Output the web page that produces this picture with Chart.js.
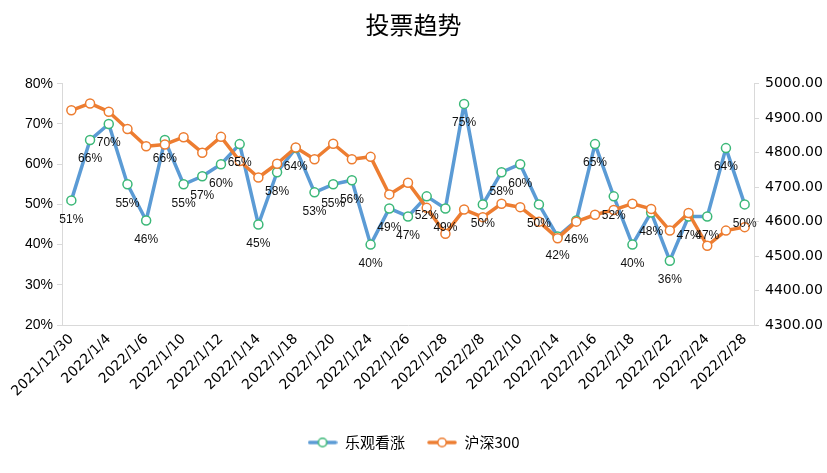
<!DOCTYPE html>
<html>
<head>
<meta charset="utf-8">
<script src="https://cdn.jsdelivr.net/npm/chart.js@4/dist/chart.umd.min.js"></script>
<style>
html,body{margin:0;padding:0;background:#fff;}
#wrap{width:827px;height:473px;position:relative;}
</style>
</head>
<body>
<div id="wrap"><canvas id="c" width="827" height="473"></canvas></div>
<script>
const categories = ["2021/12/30","2021/12/31","2022/1/4","2022/1/5","2022/1/6","2022/1/7","2022/1/10","2022/1/11","2022/1/12","2022/1/13","2022/1/14","2022/1/17","2022/1/18","2022/1/19","2022/1/20","2022/1/21","2022/1/24","2022/1/25","2022/1/26","2022/1/27","2022/1/28","2022/2/7","2022/2/8","2022/2/9","2022/2/10","2022/2/11","2022/2/14","2022/2/15","2022/2/16","2022/2/17","2022/2/18","2022/2/21","2022/2/22","2022/2/23","2022/2/24","2022/2/25","2022/2/28"];
const bullishPct = [51,66,70,55,46,66,55,57,60,65,45,58,64,53,55,56,40,49,47,52,49,75,50,58,60,50,42,46,65,52,40,48,36,47,47,64,50];
const hs300 = [4923,4943,4919,4869,4819,4824,4845,4800,4846,4776,4728,4768,4815,4781,4826,4781,4788,4679,4713,4640,4565,4635,4613,4652,4642,4600,4552,4600,4620,4634,4652,4637,4574,4625,4530,4574,4584];
const leftTicks = {min:20, max:80, step:10};
const rightTicks = {min:4300, max:5000, step:100};
const seriesNames = ["乐观看涨","沪深300"];
const title = "投票趋势";

function legendIcon(lineColor, markerColor){
  const cv = document.createElement('canvas');
  cv.width = 30; cv.height = 12;
  const g = cv.getContext('2d');
  g.strokeStyle = lineColor; g.lineWidth = 3.5; g.lineCap='round';
  g.beginPath(); g.moveTo(2,6); g.lineTo(28,6); g.stroke();
  g.fillStyle = '#fff'; g.strokeStyle = markerColor; g.lineWidth = 1.5;
  g.beginPath(); g.arc(15,6,4.2,0,Math.PI*2); g.fill(); g.stroke();
  return cv;
}

const BLUE = '#5B9BD5', GREEN = '#3CB878', ORANGE = '#ED7D31';

const labelPlugin = {
  id:'pctLabels',
  afterDatasetsDraw(chart){
    const meta = chart.getDatasetMeta(0);
    const ctx = chart.ctx;
    ctx.save();
    ctx.font = '12px "Liberation Sans", Arial, sans-serif';
    ctx.fillStyle = '#111';
    ctx.textAlign = 'center';
    ctx.textBaseline = 'middle';
    meta.data.forEach((pt,i)=>{
      ctx.fillText(bullishPct[i] + '%', pt.x, pt.y + 19);
    });
    ctx.restore();
  }
};

const tickFont = {family:'"Liberation Sans", Arial, sans-serif', size:14};

new Chart(document.getElementById('c'), {
  type:'line',
  data:{
    labels: categories,
    datasets:[
      {label:seriesNames[0], data:bullishPct, yAxisID:'y', borderColor:BLUE, borderWidth:3.5,
       borderJoinStyle:'round', borderCapStyle:'round',
       pointRadius:4.5, pointBorderWidth:1.5, pointBorderColor:GREEN, pointBackgroundColor:'#fff',
       tension:0, order:1, pointStyle:'circle'},
      {label:seriesNames[1], data:hs300, yAxisID:'y1', borderColor:ORANGE, borderWidth:3.5,
       borderJoinStyle:'round', borderCapStyle:'round',
       pointRadius:4.5, pointBorderWidth:1.5, pointBorderColor:ORANGE, pointBackgroundColor:'#fff',
       tension:0, order:0, pointStyle:'circle'}
    ]
  },
  options:{
    responsive:false,
    animation:false,
    devicePixelRatio:1,
    layout:{padding:{top:0,left:0,right:0,bottom:13}},
    plugins:{
      title:{display:true, text:title, color:'#000',
        font:{family:'"Noto Sans CJK SC", sans-serif', size:24, weight:'normal'},
        padding:{top:10, bottom:45}},
      legend:{position:'bottom',
        labels:{
          usePointStyle:true, pointStyleWidth:30, boxHeight:12, padding:22,
          color:'#000', font:{family:'"Noto Sans CJK SC", sans-serif', size:15},
          sort:(a,b)=>a.datasetIndex-b.datasetIndex,
          generateLabels(chart){
            return chart.data.datasets.map((ds,i)=>({
              text:ds.label, datasetIndex:i,
              pointStyle: i===0 ? legendIcon(BLUE,GREEN) : legendIcon(ORANGE,ORANGE),
              fillStyle:'#fff', strokeStyle:ds.borderColor, lineWidth:0, hidden:false, fontColor:'#000'
            }));
          }
        }
      },
      tooltip:{enabled:false}
    },
    scales:{
      x:{
        offset:true,
        grid:{display:false, drawTicks:false},
        border:{display:true, color:'#d9d9d9', width:1},
        ticks:{autoSkip:false, minRotation:45, maxRotation:45, color:'#000', padding:6,
          font:{family:'"DejaVu Sans", sans-serif', size:14},
          callback:function(v,i){ return i%2===0 ? categories[i] : ''; }},
        afterFit(axis){ axis.height = 88; }
      },
      y:{
        position:'left', min:leftTicks.min, max:leftTicks.max,
        grid:{display:true, drawOnChartArea:false, drawTicks:true, tickLength:5, color:'#d9d9d9'},
        border:{display:true, color:'#d9d9d9'},
        ticks:{stepSize:leftTicks.step, color:'#000', padding:4, font:tickFont,
          callback:v=>v+'%'},
        afterFit(axis){ axis.width = 62; }
      },
      y1:{
        position:'right', min:rightTicks.min, max:rightTicks.max,
        grid:{display:true, drawOnChartArea:false, drawTicks:true, tickLength:5, color:'#d9d9d9'},
        border:{display:true, color:'#d9d9d9'},
        ticks:{stepSize:rightTicks.step, color:'#000', padding:6,
          font:{family:'"DejaVu Sans", sans-serif', size:14},
          callback:v=>Number(v).toFixed(2)},
        afterFit(axis){ axis.width = 73; }
      }
    }
  },
  plugins:[labelPlugin]
});
</script>
</body>
</html>
